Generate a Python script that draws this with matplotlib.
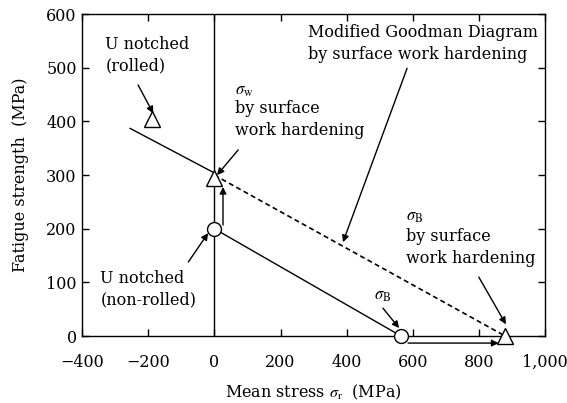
import matplotlib
matplotlib.use("Agg")
import matplotlib.pyplot as plt
from matplotlib.ticker import FuncFormatter

plt.rcParams['font.family'] = ['DejaVu Serif']
plt.rcParams['mathtext.fontset'] = 'stix'

# data (MPa)
rolled_x, rolled_y = [-190], [405]
sw_hard_x, sw_hard_y = [0], [295]
sb_hard_x, sb_hard_y = [880], [0]
nonrolled_x, nonrolled_y = [0, 565], [200, 0]
goodman_hard_x, goodman_hard_y = [0, 880], [300, 0]
goodman_ext_x, goodman_ext_y = [-255, 0], [387, 304]
goodman_base_x, goodman_base_y = [0, 565], [200, 0]

xticks = [-400, -200, 0, 200, 400, 600, 800, 1000]
yticks = [0, 100, 200, 300, 400, 500, 600]

fig = plt.figure(figsize=(5.67, 4.03), dpi=100)
ax = fig.add_axes([0.145, 0.166, 0.816, 0.799])

ax.axvline(0, color='black', lw=1.0)
ax.plot(goodman_ext_x, goodman_ext_y, color='black', lw=1.0)
ax.plot(goodman_hard_x, goodman_hard_y, color='black', lw=1.2, ls=(0, (3, 2)))
ax.plot(goodman_base_x, goodman_base_y, color='black', lw=1.0)

tri = dict(marker='^', ms=11, mfc='white', mec='black', mew=1.0, ls='none', clip_on=False, zorder=5)
circ = dict(marker='o', ms=10, mfc='white', mec='black', mew=1.0, ls='none', clip_on=False, zorder=5)
ax.plot(rolled_x, rolled_y, **tri)
ax.plot(sw_hard_x, sw_hard_y, **tri)
ax.plot(sb_hard_x, sb_hard_y, **tri)
ax.plot(nonrolled_x, nonrolled_y, **circ)

arr = dict(arrowstyle='-|>', color='black', lw=1.0, mutation_scale=10, shrinkA=0, shrinkB=0)
fs = 11.5
ls = 1.4

def note(text, xy, xytext, tx, ty, ha='left'):
    ax.annotate('', xy=xy, xytext=xytext, arrowprops=arr, annotation_clip=False)
    ax.text(tx, ty, text, fontsize=fs, ha=ha, va='top', linespacing=ls)

note('U notched\n(rolled)', (-185, 415), (-231, 468), -330, 560)
ax.annotate('', xy=(8, 300), xytext=(72, 347), arrowprops=arr)
ax.text(63, 458, r'$\sigma_{\rm w}$', fontsize=12, ha='left', va='center')
ax.text(63, 440, 'by surface\nwork hardening', fontsize=fs, ha='left', va='top', linespacing=ls)
note('Modified Goodman Diagram\nby surface work hardening', (389, 175), (583, 499), 283, 582)
note('U notched\n(non-rolled)', (-19, 192), (-79, 138), -345, 124)
ax.annotate('', xy=(559, 15), xytext=(510, 52), arrowprops=arr)
ax.text(510, 75, r'$\sigma_{\rm B}$', fontsize=12, ha='center', va='center')
ax.annotate('', xy=(882, 22), xytext=(800, 110), arrowprops=arr)
ax.text(580, 222, r'$\sigma_{\rm B}$', fontsize=12, ha='left', va='center')
ax.text(580, 202, 'by surface\nwork hardening', fontsize=fs, ha='left', va='top', linespacing=ls)

# sigma_w shift and sigma_B shift
ax.annotate('', xy=(26, 278), xytext=(26, 207), arrowprops=arr)
ax.annotate('', xy=(860, -13), xytext=(586, -13), arrowprops=arr, annotation_clip=False)

ax.set_xlim(-400, 1000)
ax.set_ylim(0, 600)
ax.set_xticks(xticks)
ax.set_yticks(yticks)
ax.xaxis.set_major_formatter(FuncFormatter(lambda v, p: ('\u2212' if v < 0 else '') + f'{abs(int(v)):,}'))
ax.tick_params(direction='in', top=True, right=True, labelsize=fs, length=5, width=1.0)
ax.tick_params(axis='x', pad=13)
ax.tick_params(axis='y', pad=4)
for s in ax.spines.values():
    s.set_linewidth(1.0)

ax.set_xlabel(r'Mean stress $\sigma_{\rm r}$  (MPa)', fontsize=fs, labelpad=8)
ax.set_ylabel('Fatigue strength  (MPa)', fontsize=fs, labelpad=12)

fig.savefig('out.png', dpi=100)
